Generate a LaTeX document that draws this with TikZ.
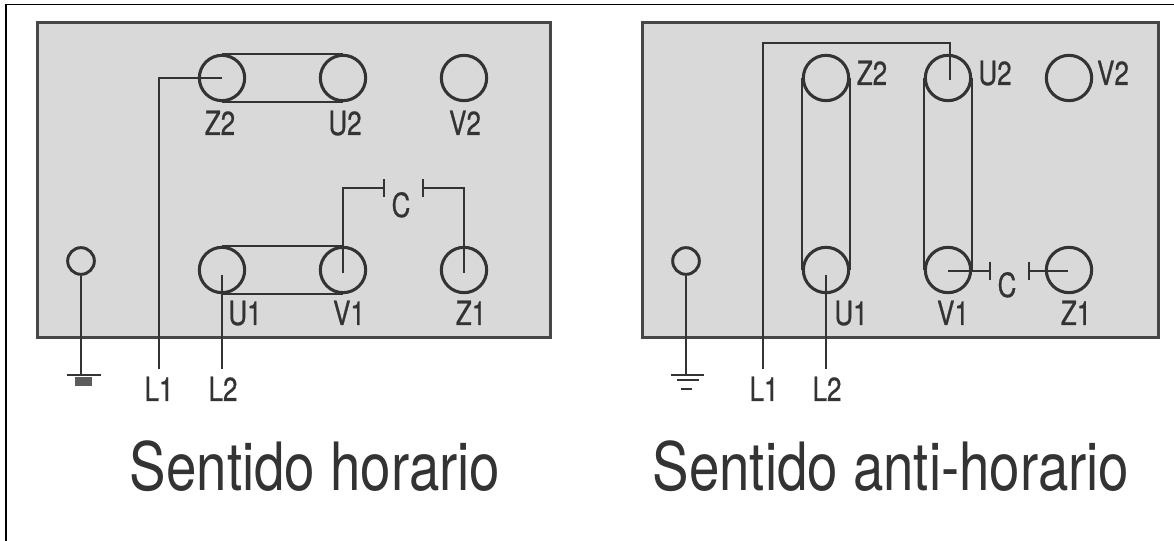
\documentclass[tikz,border=0pt]{standalone}
\usepackage{fontspec}
\newfontfamily\lblfont[FakeStretch=0.78,FakeBold=0.6]{TeX Gyre Heros}
\newfontfamily\bigfont[FakeStretch=0.82]{TeX Gyre Heros}
\definecolor{panelgray}{HTML}{D9D9D9}
\definecolor{ink}{HTML}{333333}
\tikzset{
  panel/.style={draw=ink!90,fill=panelgray,line width=2.2pt,minimum width=385pt,minimum height=236pt,inner sep=0pt},
  terminal/.style={circle,draw=ink,line width=2.3pt,minimum size=34pt,inner sep=0pt},
  gndterm/.style={circle,draw=ink,line width=2.2pt,minimum size=20pt,inner sep=0pt},
  lbl/.style={font=\lblfont\fontsize{25}{25}\selectfont,text=ink,anchor=base,inner sep=0pt},
  caption/.style={font=\bigfont\fontsize{50}{50}\selectfont,text=ink,anchor=base,inner sep=0pt},
  wire/.style={draw=ink,line width=1.7pt},
  link/.style={draw=ink,line width=1.9pt},
  plate/.style={draw=ink,line width=2.2pt},
  framerule/.style={draw=black,line width=1.2pt}
}
\begin{document}
\begin{tikzpicture}[x=0.75pt,y=-0.75pt]
\useasboundingbox (0,0) rectangle (1174,541);
\fill[white] (0,0) rectangle (1174,541);
% outer frame
\coordinate (fbl) at (6,541);
\coordinate (ftl) at (6,4.5);
\coordinate (ftr) at (1174,4.5);
\draw[framerule] (fbl) -- (ftl) -- (ftr);

% ===== left panel =====
\node[panel] (pa) at (294,180) {};
\node[terminal] (az2) at (222,78) {};
\node[terminal] (au2) at (343,78) {};
\node[terminal] (av2) at (464,78) {};
\node[terminal] (au1) at (222,270) {};
\node[terminal] (av1) at (343,270) {};
\node[terminal] (az1) at (464,270) {};
\node[gndterm] (ag) at (81,261) {};
\node[lbl] (laz2) at (220,135) {Z2};
\node[lbl] (lau2) at (345,135) {U2};
\node[lbl] (lav2) at (465,135) {V2};
\node[lbl] (lau1) at (245,325) {U1};
\node[lbl] (lav1) at (349,325) {V1};
\node[lbl] (laz1) at (471,325) {Z1};
\node[lbl] (lac) at (401,217) {C};
\node[lbl] (lal1) at (159,401) {L1};
\node[lbl] (lal2) at (223,401) {L2};
\draw[link] (az2.north) -- (au2.north);
\draw[link] (az2.south) -- (au2.south);
\draw[link] (au1.north) -- (av1.north);
\draw[link] (au1.south) -- (av1.south);
\coordinate (al1s) at (159,369);
\coordinate (al2s) at (222,369);
\coordinate (al2e) at (222,275);
\draw[wire] (al1s) |- (az2.center);
\draw[wire] (al2s) -- (al2e);
\coordinate (av1e) at (343,273);
\coordinate (az1e) at (464,273);
\coordinate (acl) at (384,188);
\coordinate (acr) at (423,188);
\draw[wire] (av1e) |- (acl);
\draw[wire] (az1e) |- (acr);
\draw[plate] ([yshift=6.5pt]acl) -- ([yshift=-6.5pt]acl);
\draw[plate] ([yshift=6.5pt]acr) -- ([yshift=-6.5pt]acr);
\coordinate (age) at (81,375);
\draw[wire] (ag.south) -- (age);
\draw[plate] (67,375) -- (101,375);
\draw[line width=7pt,draw=ink!80,line cap=butt] (75,381.5) -- (92,381.5);

% ===== right panel =====
\node[panel,minimum width=387pt] (pb) at (900.5,180) {};
\node[terminal] (bz2) at (826,78) {};
\node[terminal] (bu2) at (948,78) {};
\node[terminal] (bv2) at (1069,78) {};
\node[terminal] (bu1) at (826,270) {};
\node[terminal] (bv1) at (948,270) {};
\node[terminal] (bz1) at (1069,270) {};
\node[gndterm] (bg) at (686,261) {};
\node[lbl] (lbz2) at (872,85) {Z2};
\node[lbl] (lbu2) at (995,85) {U2};
\node[lbl] (lbv2) at (1113,85) {V2};
\node[lbl] (lbu1) at (851,325) {U1};
\node[lbl] (lbv1) at (953,325) {V1};
\node[lbl] (lbz1) at (1076,325) {Z1};
\node[lbl] (lbc) at (1007,297) {C};
\node[lbl] (lbl1) at (764,401) {L1};
\node[lbl] (lbl2) at (827,401) {L2};
\draw[link] (bz2.west) -- (bu1.west);
\draw[link] (bz2.east) -- (bu1.east);
\draw[link] (bu2.west) -- (bv1.west);
\draw[link] (bu2.east) -- (bv1.east);
\coordinate (bu2e) at (950,80);
\coordinate (btop) at (763,43);
\coordinate (bl1s) at (763,369);
\draw[wire] (bl1s) -- (btop) -| (bu2e);
\coordinate (bl2s) at (826,369);
\coordinate (bl2e) at (826,275);
\draw[wire] (bl2s) -- (bl2e);
\coordinate (bcl) at (990,271);
\coordinate (bcr) at (1029,271);
\coordinate (bz1e) at (1068,271);
\draw[wire] (bv1.center |- bcl) -- (bcl);
\draw[wire] (bcr) -- (bz1e);
\draw[plate] ([yshift=7pt]bcl) -- ([yshift=-7pt]bcl);
\draw[plate] ([yshift=7pt]bcr) -- ([yshift=-7pt]bcr);
\coordinate (bge) at (686,375);
\draw[wire] (bg.south) -- (bge);
\draw[plate] (671,375) -- (704,375);
\draw[plate] (677,380) -- (699,380);
\draw[plate] (681,389) -- (692,389);

% captions
\node[caption] (capa) at (315,490) {Sentido horario};
\node[caption] (capb) at (891,490) {Sentido anti-horario};
\end{tikzpicture}
\end{document}
